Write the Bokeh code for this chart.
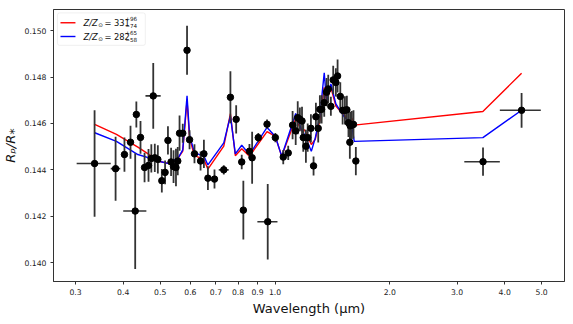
import math
from bokeh.plotting import figure
from bokeh.models import Range1d, FixedTicker, ColumnDataSource, BoxAnnotation, Label
from bokeh.embed import file_html
from bokeh.resources import INLINE

# ---------------- data ----------------
wavelength = [0.3365, 0.382, 0.403, 0.418, 0.430, 0.433, 0.444, 0.455, 0.466, 0.474,
              0.4795, 0.484, 0.493, 0.505, 0.515, 0.524, 0.534, 0.542, 0.550, 0.556,
              0.562, 0.573, 0.588, 0.597, 0.615, 0.638, 0.651, 0.667, 0.694, 0.734,
              0.764, 0.791, 0.818, 0.826, 0.857, 0.871, 0.904, 0.953, 0.957, 1.002,
              1.051, 1.083, 1.112, 1.133, 1.147, 1.162, 1.177, 1.186, 1.205, 1.218,
              1.242, 1.262, 1.280, 1.298, 1.311, 1.325, 1.346, 1.365, 1.379, 1.401,
              1.421, 1.444, 1.459, 1.483, 1.504, 1.525, 1.543, 1.558, 1.571, 1.574,
              1.590, 1.606, 1.629, 3.51, 4.43]
depth = [0.14427, 0.14405, 0.14466, 0.14519, 0.14222, 0.14639, 0.14540, 0.14410, 0.14419, 0.14449,
         0.14719, 0.14452, 0.14445, 0.14353, 0.14389, 0.14527, 0.14434, 0.14414, 0.14410, 0.14438,
         0.14558, 0.14558, 0.14916, 0.14530, 0.14469, 0.14438, 0.14469, 0.14364, 0.14360, 0.14400,
         0.14713, 0.14618, 0.14434, 0.14226, 0.14480, 0.14452, 0.14539, 0.14597, 0.14176, 0.14539,
         0.14455, 0.14473, 0.14593, 0.14568, 0.14625, 0.14618, 0.14611, 0.14539, 0.14502, 0.14539,
         0.14579, 0.14417, 0.14629, 0.14579, 0.14661, 0.14661, 0.14690, 0.14735, 0.14749, 0.14674,
         0.14788, 0.14777, 0.14805, 0.14717, 0.14657, 0.14657, 0.14659, 0.14603, 0.14519, 0.14590,
         0.14593, 0.14596, 0.14438, 0.14435, 0.14657]
depth_err = [0.00230, 0.00138, 0.00074, 0.00071, 0.00250, 0.00056, 0.00071, 0.00064, 0.00071, 0.00061,
             0.00142, 0.00061, 0.00061, 0.00051, 0.00051, 0.00061, 0.00061, 0.00071, 0.00081, 0.00061,
             0.00076, 0.00041, 0.00106, 0.00041, 0.00041, 0.00041, 0.00061, 0.00051, 0.00041, 0.00020,
             0.00112, 0.00061, 0.00031, 0.00127, 0.00031, 0.00112, 0.00020, 0.00020, 0.00163, 0.00020,
             0.00031, 0.00031, 0.00061, 0.00061, 0.00071, 0.00051, 0.00061, 0.00061, 0.00071, 0.00061,
             0.00061, 0.00041, 0.00061, 0.00061, 0.00061, 0.00061, 0.00061, 0.00061, 0.00061, 0.00041,
             0.00061, 0.00061, 0.00071, 0.00061, 0.00061, 0.00061, 0.00061, 0.00061, 0.00071, 0.00061,
             0.00061, 0.00061, 0.00061, 0.00061, 0.00075]
wl_halfwidth = [0.0345, 0.011, 0.005, 0.005, 0.030, 0.005, 0.005, 0.005, 0.005, 0.005,
                0.022, 0.005, 0.005, 0.005, 0.005, 0.005, 0.005, 0.005, 0.005, 0.005,
                0.005, 0.005, 0.005, 0.005, 0.005, 0.005, 0.005, 0.005, 0.005, 0.022,
                0.005, 0.005, 0.005, 0.005, 0.005, 0.005, 0.005, 0.005, 0.058, 0.005,
                0.005, 0.005, 0.005, 0.005, 0.005, 0.005, 0.005, 0.005, 0.005, 0.005,
                0.005, 0.005, 0.005, 0.005, 0.005, 0.005, 0.005, 0.005, 0.005, 0.005,
                0.005, 0.005, 0.005, 0.005, 0.005, 0.005, 0.005, 0.005, 0.005, 0.005,
                0.005, 0.005, 0.005, 0.375, 0.545]

model_wl = [0.3355, 0.384, 0.437, 0.479, 0.493, 0.524, 0.542, 0.556, 0.573, 0.588,
            0.597, 0.615, 0.651, 0.667, 0.734, 0.764, 0.787, 0.818, 0.857, 0.953,
            1.002, 1.041, 1.133, 1.170, 1.196, 1.245, 1.275, 1.311, 1.346, 1.365,
            1.401, 1.444, 1.483, 1.525, 1.558, 1.590, 1.613, 3.507, 4.43]
model_red = [0.14597, 0.14553, 0.14498, 0.14455, 0.14438, 0.14428, 0.14443, 0.14448, 0.14481, 0.14699,
             0.14537, 0.14461, 0.14445, 0.14403, 0.14502, 0.14643, 0.14461, 0.14491, 0.14459, 0.14565,
             0.14544, 0.14459, 0.14621, 0.14573, 0.14572, 0.14509, 0.14532, 0.14614, 0.14756, 0.14695,
             0.14756, 0.14675, 0.14654, 0.14634, 0.14593, 0.14624, 0.14593, 0.14652, 0.14817]
model_blue = [0.14561, 0.14523, 0.14466, 0.14446, 0.14438, 0.14428, 0.14443, 0.14448, 0.14486, 0.14720,
              0.14550, 0.14473, 0.14459, 0.14421, 0.14516, 0.14633, 0.14469, 0.14506, 0.14466, 0.14583,
              0.14544, 0.14459, 0.14643, 0.14578, 0.14550, 0.14480, 0.14537, 0.14634, 0.14819, 0.14695,
              0.14771, 0.14685, 0.14654, 0.14624, 0.14614, 0.14593, 0.14523, 0.14539, 0.14657]

legend_labels = [("331", "+96", "\u221274"), ("282", "+65", "\u221258")]
legend_colors = ["#ff0000", "#0000ff"]

x_ticks = [0.3, 0.4, 0.5, 0.6, 0.7, 0.8, 0.9, 1.0, 2.0, 3.0, 4.0, 5.0]
x_tick_labels = ["0.3", "0.4", "0.5", "0.6", "0.7", "0.8", "0.9", "1.0", "2.0", "3.0", "4.0", "5.0"]
y_ticks = [0.140, 0.142, 0.144, 0.146, 0.148, 0.150]
y_tick_labels = ["0.140", "0.142", "0.144", "0.146", "0.148", "0.150"]

# ---------------- figure ----------------
X0, X1 = 0.2626, 5.74
Y0, Y1 = 0.13918, 0.15092
W, H = 565, 318
BL, BR, BT, BB = 52, 1, 9, 32
FW, FH = W - BL - BR, H - BT - BB

p = figure(width=W, height=H, x_axis_type="log",
           x_range=Range1d(X0, X1), y_range=Range1d(Y0, Y1),
           output_backend="svg", toolbar_location=None,
           min_border_left=BL, min_border_right=BR, min_border_top=BT, min_border_bottom=BB)
p.background_fill_color = "white"
p.border_fill_color = "white"
p.outline_line_color = "#333333"
p.outline_line_width = 1
p.grid.visible = False

FONT = "DejaVu Sans"
p.xaxis.ticker = FixedTicker(ticks=x_ticks, minor_ticks=[])
p.xaxis.major_label_overrides = {t: s for t, s in zip(x_ticks, x_tick_labels)}
p.yaxis.ticker = FixedTicker(ticks=y_ticks, minor_ticks=[])
p.yaxis.major_label_overrides = {t: s for t, s in zip(y_ticks, y_tick_labels)}
for ax in (p.xaxis[0], p.yaxis[0]):
    ax.axis_line_color = "#333333"
    ax.major_tick_line_color = "#333333"
    ax.major_tick_out = 3
    ax.major_tick_in = 0
    ax.minor_tick_line_color = None
    ax.major_label_text_font = FONT
    ax.major_label_text_font_size = "7.7px"
    ax.major_label_text_color = "#222222"
    ax.axis_label_text_font = FONT
    ax.axis_label_text_font_size = "13px"
    ax.axis_label_text_color = "#111111"
p.xaxis.axis_label = "Wavelength (\u03bcm)"
p.xaxis.axis_label_text_font_style = "normal"
p.xaxis.major_label_standoff = 4
p.xaxis.axis_label_standoff = 3
p.yaxis.axis_label = "R\u209a/R\u204e"
p.yaxis.axis_label_text_font_style = "italic"
p.yaxis.major_label_standoff = 4
p.yaxis.axis_label_standoff = 3

# models
p.line(model_wl, model_red, line_color=legend_colors[0], line_width=1.4)
p.line(model_wl, model_blue, line_color=legend_colors[1], line_width=1.4)

# error bars and points
src = ColumnDataSource(dict(
    x=wavelength, y=depth,
    ylo=[d - e for d, e in zip(depth, depth_err)],
    yhi=[d + e for d, e in zip(depth, depth_err)],
    xlo=[w - h for w, h in zip(wavelength, wl_halfwidth)],
    xhi=[w + h for w, h in zip(wavelength, wl_halfwidth)],
))
p.segment(x0="x", y0="ylo", x1="x", y1="yhi", source=src, line_color="#333333", line_width=1.8)
p.segment(x0="xlo", y0="y", x1="xhi", y1="y", source=src, line_color="#333333", line_width=1.6)
p.scatter(x="x", y="y", source=src, size=6.5, fill_color="black", line_color="black")

# ---------------- legend (manual, for sub/superscripts) ----------------
def px(xp, yp):
    """canvas pixel -> data coordinates"""
    fx = (xp - BL) / FW
    fy = ((BT + FH) - yp) / FH
    lx = math.log10(X0) + fx * (math.log10(X1) - math.log10(X0))
    return 10 ** lx, Y0 + fy * (Y1 - Y0)

bl, bt = px(56, 12.5)
br, bb = px(144, 45.5)
p.add_layout(BoxAnnotation(left=bl, right=br, bottom=bb, top=bt,
                           fill_color="white", fill_alpha=0.85,
                           line_color="#cccccc", line_width=1, border_radius=2))
for i, (col, (main, sup, sub)) in enumerate(zip(legend_colors, legend_labels)):
    yc = 22.5 + 14 * i
    xa, ya = px(59, yc)
    xb, _ = px(74, yc)
    r = p.segment(x0=[xa], y0=[ya], x1=[xb], y1=[ya], line_color=col, line_width=1.4)
    r.level = "overlay"
    pieces = [("Z/Z", 82, yc, "8.3px", "italic"),
              ("\u2299", 96.8, yc + 2.5, "5.6px", "normal"),
              ("= " + main, 103, yc, "8.3px", "normal"),
              (sup, 124, yc - 4.2, "5.6px", "normal"),
              (sub, 124, yc + 3.2, "5.6px", "normal")]
    for txt, xp_, yp_, fs, st in pieces:
        lx, ly = px(xp_, yp_)
        p.add_layout(Label(x=lx, y=ly, text=txt, text_font=FONT, text_font_size=fs,
                           text_font_style=st, text_baseline="middle", text_align="left",
                           text_color="#111111"))

open("out.html", "w").write(file_html(p, INLINE))
